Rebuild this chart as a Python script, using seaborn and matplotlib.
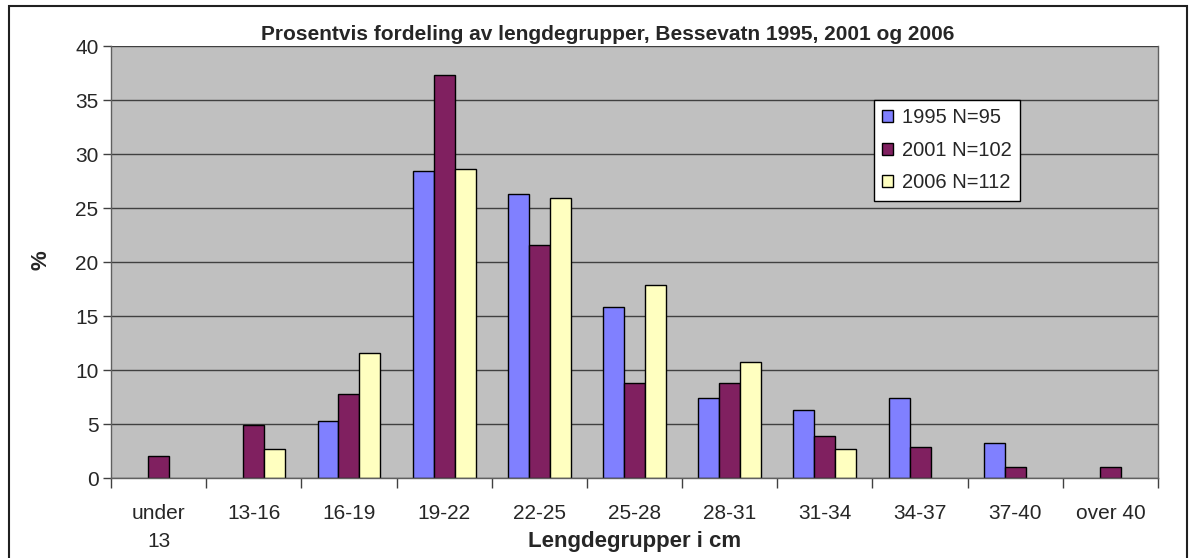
import matplotlib.pyplot as plt
import matplotlib.patches as mpatches
import numpy as np
import pandas as pd
import seaborn as sns

GROUPS = ["under\n13", "13-16", "16-19", "19-22", "22-25", "25-28",
          "28-31", "31-34", "34-37", "37-40", "over 40"]
PCT_1995 = [0, 0, 5.3, 28.4, 26.3, 15.8, 7.4, 6.3, 7.4, 3.2, 0]
PCT_2001 = [2.0, 4.9, 7.8, 37.3, 21.6, 8.8, 8.8, 3.9, 2.9, 1.0, 1.0]
PCT_2006 = [0, 2.7, 11.6, 28.6, 25.9, 17.9, 10.7, 2.7, 0, 0, 0]
SERIES = ["1995 N=95", "2001 N=102", "2006 N=112"]
COLORS = ["#8080FF", "#802060", "#FFFFC0"]


def main():
    sns.set_style("white")
    plt.rcParams["font.family"] = ["Liberation Sans", "DejaVu Sans"]

    df = pd.DataFrame({
        "group": GROUPS * 3,
        "pct": PCT_1995 + PCT_2001 + PCT_2006,
        "series": [s for s in SERIES for _ in GROUPS],
    })
    # empty classes get no bar (Excel draws nothing for 0)
    df["pct"] = df["pct"].replace(0, np.nan)

    fig = plt.figure(figsize=(11.96, 5.58), dpi=100)
    ax = fig.add_axes([111 / 1196, 1 - 478 / 558, 1047 / 1196, 432 / 558])
    ax.set_facecolor("#C0C0C0")
    ax.set_axisbelow(True)

    sns.barplot(data=df, x="group", y="pct", hue="series", order=GROUPS,
                hue_order=SERIES, palette=COLORS, width=0.66,
                edgecolor="black", linewidth=1, saturation=1, ax=ax)

    ax.set_ylim(0, 40)
    ax.set_xlim(-0.5, len(GROUPS) - 0.5)
    ax.set_yticks(range(0, 41, 5))
    ax.yaxis.grid(True, color="#404040", linewidth=1)
    ax.tick_params(axis="y", labelsize=15, length=6, width=1, color="#404040",
                   left=True, pad=3)
    ax.tick_params(axis="x", which="major", labelsize=15, length=0, pad=19)
    ax.set_xticks([i - 0.5 for i in range(len(GROUPS) + 1)], minor=True)
    ax.tick_params(axis="x", which="minor", length=7, width=1, color="#404040",
                   bottom=True)
    for lbl in ax.get_xticklabels():
        lbl.set_linespacing(1.6)

    ax.spines["top"].set_visible(False)
    for side in ["left", "bottom", "right"]:
        ax.spines[side].set_color("#606060")
        ax.spines[side].set_linewidth(1)

    ax.set_xlabel("Lengdegrupper i cm", fontsize=16, fontweight="bold")
    ax.xaxis.label.set_verticalalignment("center")
    ax.xaxis.set_label_coords(0.5, (478 - 541) / 432)
    ax.set_ylabel("%", fontsize=16, fontweight="bold")
    ax.yaxis.label.set_verticalalignment("center")
    ax.yaxis.set_label_coords((41 - 111) / 1047, 0.505)

    leg = ax.legend(loc="upper left", bbox_to_anchor=(0.729, 0.875),
                    fontsize=14.5, frameon=True, fancybox=False, edgecolor="black",
                    handlelength=0.55, handleheight=0.55, handletextpad=0.45,
                    borderpad=0.4, labelspacing=0.68, borderaxespad=0)
    leg.get_frame().set_linewidth(1)
    leg.get_frame().set_facecolor("white")
    leg.get_frame().set_alpha(1)

    fig.text(608 / 1196, 1 - 34 / 558,
             "Prosentvis fordeling av lengdegrupper, Bessevatn 1995, 2001 og 2006",
             ha="center", va="center", fontsize=15, fontweight="bold")

    border = mpatches.Rectangle((9 / 1196, -0.02), 1178 / 1196, 1 - 6 / 558 + 0.02,
                                transform=fig.transFigure, fill=False,
                                edgecolor="#202020", linewidth=1.5)
    fig.patches.append(border)

    fig.savefig("out.png", dpi=100)


if __name__ == "__main__":
    main()
